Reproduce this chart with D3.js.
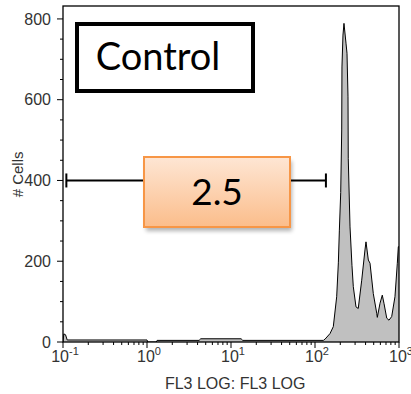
<!DOCTYPE html>
<html lang="en">
<head>
<meta charset="UTF-8">
<title>Control</title>
<style>
  body { margin: 0; background: #fff; }
  svg { display: block; }
</style>
</head>
<body>
<svg id="svg"></svg>
<script src="https://d3js.org/d3.v7.min.js"></script>
<script>
// histogram: log10(FL3) position and cell count
const logFL3 = [-1.0, -0.99, -0.97, -0.95, 0.0, 0.01, 0.11, 0.12, 0.62, 0.64, 1.12, 1.14, 2.10,
  2.119, 2.179, 2.218, 2.258, 2.278, 2.290, 2.306, 2.318, 2.321, 2.333, 2.345, 2.369, 2.381,
  2.393, 2.396, 2.417, 2.440, 2.456, 2.488, 2.515, 2.556, 2.595, 2.607, 2.635, 2.655, 2.694,
  2.735, 2.742, 2.774, 2.801, 2.821, 2.854, 2.881, 2.913, 2.952, 2.980, 2.992, 3.0];
const cells = [0, 20, 18, 5, 5, 0, 0, 4, 4, 8, 8, 4, 4,
  7, 21, 38, 112, 196, 277, 370, 525, 681, 760, 789, 740, 715,
  607, 455, 285, 190, 137, 87, 83, 153, 228, 248, 203, 195, 120,
  71, 61, 96, 116, 96, 59, 54, 63, 112, 195, 236, 236];

const yTicks = [0, 200, 400, 600, 800];
const xDecades = [-1, 0, 1, 2, 3];
const gate = { from: -0.96, to: 2.13, level: 400, value: "2.5" };
const sampleName = "Control";

const width = 411, height = 394;
const margin = { top: 6, left: 63, right: 12, bottom: 52 };
const svg = d3.select("#svg").attr("width", width).attr("height", height);

const x = d3.scaleLinear().domain([-1, 3]).range([margin.left, width - margin.right]);
const y = d3.scaleLinear().domain([0, 832]).range([height - margin.bottom, margin.top]);

const defs = svg.append("defs");
defs.append("clipPath").attr("id", "plot")
  .append("rect")
  .attr("x", x(-1)).attr("y", y(832))
  .attr("width", x(3) - x(-1)).attr("height", y(0) - y(832));

const grad = defs.append("linearGradient").attr("id", "orange")
  .attr("x1", 0).attr("y1", 0).attr("x2", 0).attr("y2", 1);
grad.append("stop").attr("offset", "0%").attr("stop-color", "#fee6d4");
grad.append("stop").attr("offset", "100%").attr("stop-color", "#fbbd8b");

const blur = defs.append("filter").attr("id", "shadow")
  .attr("x", "-20%").attr("y", "-20%").attr("width", "140%").attr("height", "150%");
blur.append("feGaussianBlur").attr("stdDeviation", 2);

// histogram
const pts = logFL3.map((v, i) => [v, cells[i]]);
const g = svg.append("g").attr("clip-path", "url(#plot)");
g.append("path")
  .attr("d", d3.area().x(d => x(d[0])).y0(y(0)).y1(d => y(d[1]))(pts))
  .attr("fill", "#c0c0c0");
g.append("path")
  .attr("d", d3.line().x(d => x(d[0])).y(d => y(d[1]))(pts))
  .attr("fill", "none").attr("stroke", "#000").attr("stroke-width", 1);

// frame
svg.append("rect")
  .attr("x", x(-1)).attr("y", y(832))
  .attr("width", x(3) - x(-1)).attr("height", y(0) - y(832))
  .attr("fill", "none").attr("stroke", "#000").attr("stroke-width", 1.3);

// y axis
const minorY = d3.range(0, 801, 50);
const yAxis = svg.append("g").attr("transform", `translate(${x(-1)},0)`);
yAxis.selectAll("line").data(minorY).join("line")
  .attr("x1", d => yTicks.includes(d) ? -6 : -3).attr("x2", 0)
  .attr("y1", d => y(d)).attr("y2", d => y(d))
  .attr("stroke", "#000").attr("stroke-width", 1);
yAxis.selectAll("text").data(yTicks).join("text")
  .attr("x", -12).attr("y", d => y(d)).attr("dy", "0.35em")
  .attr("text-anchor", "end")
  .style("font", "16px 'Liberation Sans', Arial, sans-serif").attr("fill", "#333")
  .text(d => d);

// x axis
const minorX = [];
xDecades.slice(0, -1).forEach(e => d3.range(1, 10).forEach(m => minorX.push(e + Math.log10(m))));
minorX.push(3);
const xAxis = svg.append("g").attr("transform", `translate(0,${y(0)})`);
xAxis.selectAll("line").data(minorX).join("line")
  .attr("x1", d => x(d)).attr("x2", d => x(d))
  .attr("y1", 0).attr("y2", d => Math.abs(d - Math.round(d)) < 1e-9 ? 6 : 3)
  .attr("stroke", "#000").attr("stroke-width", 1);
const xl = xAxis.selectAll("text").data(xDecades).join("text")
  .attr("x", d => x(d) + 2).attr("y", 20)
  .attr("text-anchor", "middle")
  .style("font", "16px 'Liberation Sans', Arial, sans-serif").attr("fill", "#333");
xl.append("tspan").text("10");
xl.append("tspan").attr("dy", -7).style("font-size", "11px").text(d => d);

svg.append("text")
  .attr("x", x(1.05)).attr("y", 389).attr("text-anchor", "middle")
  .style("font", "16px 'Liberation Sans', Arial, sans-serif").attr("fill", "#333")
  .text("FL3 LOG: FL3 LOG");
svg.append("text")
  .attr("transform", `translate(23,${y(415)}) rotate(-90)`)
  .attr("text-anchor", "middle")
  .style("font", "15px 'Liberation Sans', Arial, sans-serif").attr("fill", "#333")
  .text("# Cells");

// gate
const gy = y(gate.level);
svg.append("line")
  .attr("x1", x(gate.from)).attr("x2", x(gate.to)).attr("y1", gy).attr("y2", gy)
  .attr("stroke", "#000").attr("stroke-width", 2);
svg.selectAll("line.cap").data([gate.from, gate.to]).join("line")
  .attr("x1", d => x(d)).attr("x2", d => x(d)).attr("y1", gy - 7).attr("y2", gy + 7)
  .attr("stroke", "#000").attr("stroke-width", 2);

// gate value box
const bx = 144, by = 157, bw = 146, bh = 70;
svg.append("rect").attr("x", bx + 2).attr("y", by + 4).attr("width", bw).attr("height", bh)
  .attr("fill", "#000").attr("opacity", 0.3).attr("filter", "url(#shadow)");
svg.append("rect").attr("x", bx).attr("y", by).attr("width", bw).attr("height", bh)
  .attr("fill", "url(#orange)").attr("stroke", "#f79646").attr("stroke-width", 2);
svg.append("text")
  .attr("x", bx + bw / 2).attr("y", by + 48).attr("text-anchor", "middle")
  .style("font", "37px Lato, 'Open Sans', sans-serif").attr("fill", "#000")
  .text(gate.value);

// sample name box
svg.append("rect").attr("x", 77).attr("y", 24).attr("width", 176).attr("height", 67)
  .attr("fill", "#fff").attr("stroke", "#000").attr("stroke-width", 4);
svg.append("text")
  .attr("x", 158).attr("y", 70).attr("text-anchor", "middle")
  .style("font", "38px Lato, 'Open Sans', sans-serif").attr("fill", "#000")
  .text(sampleName);
</script>
</body>
</html>
